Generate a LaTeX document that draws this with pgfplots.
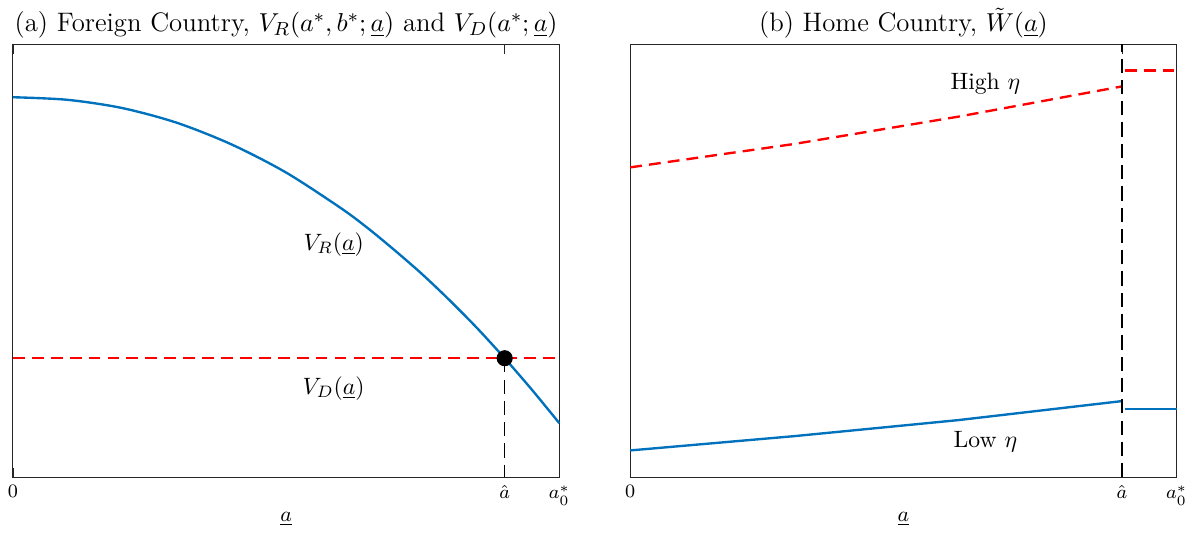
\documentclass[border=0pt]{standalone}
\usepackage{pgfplots}
\pgfplotsset{compat=1.18}
\definecolor{mblue}{rgb}{0,0.447,0.741}
\definecolor{axgray}{rgb}{0.15,0.15,0.15}
\pgfplotsset{
  panel/.style={
    scale only axis, width=231pt, height=183pt,
    xmin=0, xmax=1, ymin=0, ymax=1,
    axis line style={axgray, line width=0.4pt},
    xtick={0,0.9,1}, xticklabels={$0$,$\hat{a}$,$a_0^*$},
    ytick=\empty,
    tick pos=both, tick align=inside,
    major tick length=4pt,
    tick style={axgray},
    tick label style={font=\footnotesize},
    xlabel={$\underline{a}$}, xlabel style={font=\small, yshift=4pt},
    title style={font=\fontsize{11.3}{13}\selectfont, yshift=-7pt},
    clip=false,
  }
}
\begin{document}
\begin{tikzpicture}
\begin{axis}[panel,
  title={(a) Foreign Country, $V_R(a^*,b^*;\underline{a})$ and $V_D(a^*;\underline{a})$}]
\addplot[mblue, line width=1pt, smooth] coordinates {
  (0,0.878) (0.1,0.872) (0.2,0.853) (0.3,0.819) (0.4,0.769) (0.5,0.704)
  (0.6,0.622) (0.65,0.575) (0.7,0.523) (0.75,0.468) (0.8,0.408)
  (0.85,0.344) (0.9,0.275) (0.95,0.202) (1,0.125)};
\addplot[red, line width=1pt, dash pattern=on 5pt off 3pt] coordinates {(0,0.275) (1,0.275)};
\addplot[black, line width=0.5pt, dash pattern=on 6pt off 3pt] coordinates {(0.9,0.275) (0.9,0)};
\addplot[only marks, mark=*, mark size=3.2pt, black] coordinates {(0.9,0.275)};
\node at (axis cs:0.587,0.538) {$V_R(\underline{a})$};
\node at (axis cs:0.587,0.206) {$V_D(\underline{a})$};
\end{axis}
\begin{axis}[panel, xshift=261pt,
  title={(b) Home Country, $\tilde{W}(\underline{a})$}]
\addplot[red, line width=1pt, dash pattern=on 5pt off 3pt] coordinates {
  (0,0.716) (0.3,0.770) (0.6,0.833) (0.9,0.903)};
\addplot[red, line width=1pt, dash pattern=on 5pt off 3pt] coordinates {(0.905,0.940) (1,0.940)};
\addplot[mblue, line width=1pt] coordinates {
  (0,0.062) (0.3,0.095) (0.6,0.132) (0.9,0.176)};
\addplot[mblue, line width=1pt] coordinates {(0.905,0.157) (1,0.157)};
\addplot[black, line width=0.5pt, dash pattern=on 6pt off 3pt] coordinates {(0.9,0) (0.9,1)};
\node at (axis cs:0.65,0.91) {High $\eta$};
\node at (axis cs:0.65,0.083) {Low $\eta$};
\end{axis}
\end{tikzpicture}
\end{document}
